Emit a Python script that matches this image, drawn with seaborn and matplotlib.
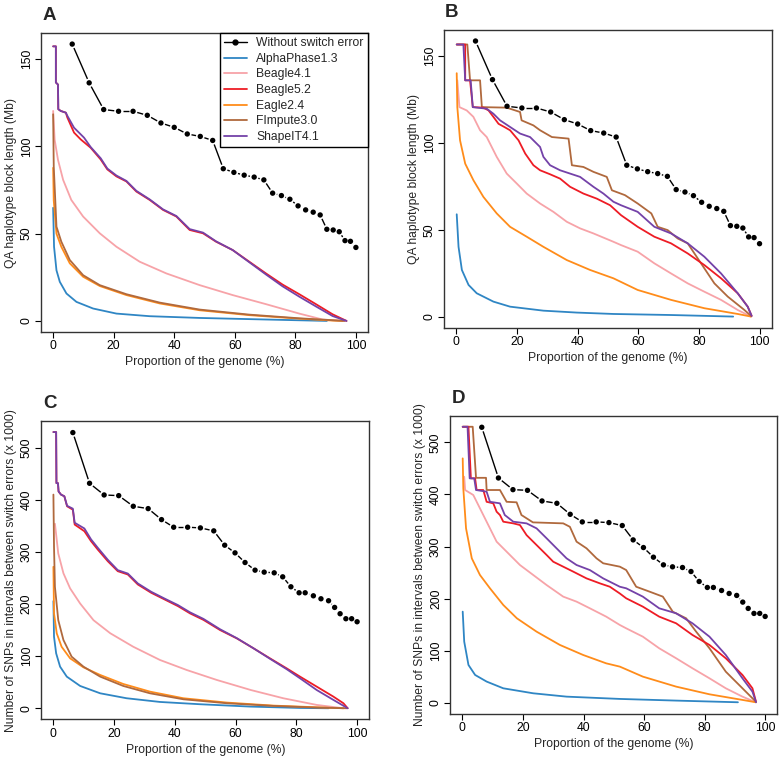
"""
Switch-error block length curves, four panels (A-D), R base-graphics look.
"""

import matplotlib

matplotlib.use("Agg")

import matplotlib.pyplot as plt
import numpy as np
import pandas as pd
import seaborn as sns

# ---------------------------------------------------------------------------
# Data
# ---------------------------------------------------------------------------

# "Without switch error" reference series (A/B: block length in Mb)
LEN_REF_X = [6.3, 11.9, 16.7, 21.6, 26.4, 31.1, 35.6, 40.0, 44.3, 48.6, 52.7, 56.2,
             59.7, 63.1, 66.4, 69.6, 72.5, 75.4, 78.2, 80.9, 83.4, 85.9, 88.2, 90.4,
             92.5, 94.5, 96.4, 98.2, 100.0]
LEN_REF_Y = [158.6, 136.4, 121.1, 120.1, 120.1, 117.8, 113.4, 110.9, 107.1, 105.7,
             103.4, 87.2, 85.1, 83.5, 82.4, 80.8, 73.2, 71.8, 69.7, 65.9, 63.6, 62.3,
             60.7, 52.5, 52.1, 51.1, 46.0, 45.6, 42.1]

# "Without switch error" reference series (C/D: SNPs x 1000)
SNP_REF_X = [6.4, 11.9, 16.7, 21.5, 26.3, 31.2, 35.6, 39.6, 44.2, 48.4, 52.8, 56.4,
             59.8, 63.1, 66.4, 69.4, 72.7, 75.5, 78.2, 80.9, 82.9, 85.6, 88.1, 90.6,
             92.6, 94.4, 96.3, 98.2, 100.0]
SNP_REF_Y = [529, 431.7, 409.3, 408, 387.6, 383.1, 362, 347.4, 347.4, 346.1, 340.4,
             312.9, 298.2, 279.7, 265, 261.2, 259.9, 252.2, 233.1, 221.6, 221.6,
             215.8, 210.1, 206.3, 193.5, 181.4, 171.8, 171.8, 166]

# Panel A
A_ALPHA_X = [0, 0.3, 1.1, 2.2, 4.4, 7.7, 13.2, 20.9, 31.9, 48.4, 70.3, 90.4]
A_ALPHA_Y = [64.8, 42.5, 29, 22.4, 15.7, 10.9, 7.1, 4.2, 2.7, 1.7, 0.8, 0]
A_B41_X = [0, 0.5, 1.6, 3.3, 6.0, 9.9, 15.4, 20.9, 28.6, 37.4, 48.4, 59.3, 70.3, 81.3, 89, 96.2]
A_B41_Y = [120.3, 103.8, 92.3, 80.8, 69.3, 59.8, 50.2, 42.5, 33.9, 27.2, 20.5, 14.8, 9.6, 4.2, 0.8, 0]
A_B52_X = [0, 0.9, 0.9, 1.6, 1.7, 2.5, 4.2, 4.7, 6.9, 9.1, 12.4, 15.7, 17.9, 20.9, 24.2,
           27.5, 31.9, 36.3, 40.7, 45.1, 49.5, 53.8, 59.3, 64.8, 70.3, 75.8, 81.3,
           86.8, 92.3, 96.9]
A_B52_Y = [157.3, 157.3, 136.6, 135.4, 121.3, 120.3, 119.3, 116.5, 107.9, 104, 99.2,
           92.5, 86.8, 82.8, 79.9, 74.1, 69.3, 63.6, 59.8, 52.1, 50.2, 45.4, 40.6,
           33.9, 27.2, 20.8, 15.3, 9.6, 3.8, 0]
A_EAGLE_X = [0, 0.2, 1.1, 2.7, 5.5, 9.9, 15.4, 24.2, 35.2, 48.4, 64.8, 81.3, 92.3, 95.6]
A_EAGLE_Y = [87.7, 69, 50, 42.5, 33, 25.3, 20, 14.8, 10, 6.1, 3.3, 1.3, 0.2, 0]
A_FIMP_X = [0, 0.2, 1.1, 2.7, 5.5, 9.9, 15.4, 24.2, 35.2, 48.4, 64.8, 81.3, 96.2]
A_FIMP_Y = [118.4, 88.5, 54, 45.4, 34.9, 26.2, 20.5, 15.3, 10.5, 6.5, 3.6, 1.5, 0]
A_SHAPE_X = [0, 0.9, 0.9, 1.6, 1.7, 2.5, 4.2, 4.7, 6.9, 10.2, 12.4, 15.7, 17.9, 20.9,
             24.2, 27.5, 31.9, 36.3, 40.7, 45.1, 49.5, 53.8, 59.3, 64.8, 70.3, 75.8,
             81.3, 86.8, 92.3, 96.9]
A_SHAPE_Y = [157.3, 157.3, 136.6, 135.4, 121.3, 120.3, 119.3, 117.5, 110.7, 105, 99.6,
             93.2, 87.3, 83.3, 80.2, 74.5, 69.6, 63.9, 60.1, 52.6, 50.6, 45.6, 40.6,
             33.6, 26.6, 19.8, 13.9, 8.3, 2.8, 0]

# Panel B
B_ALPHA_X = [0.1, 0.7, 1.8, 4.0, 6.7, 12.2, 17.7, 28.7, 39.7, 51.8, 70.8, 91.3]
B_ALPHA_Y = [59, 40.3, 27, 18.4, 13.6, 8.8, 5.9, 3.6, 2.5, 1.7, 1.1, 0.2]
B_B41_X = [0.3, 1.0, 3.4, 5.6, 7.8, 10.0, 13.3, 16.6, 19.9, 23.2, 27.6, 32.0, 36.4,
           40.8, 45.2, 51.8, 54.3, 59.8, 65.3, 70.8, 76.3, 81.8, 87.3, 92.8, 97.2]
B_B41_Y = [136, 120.6, 118.7, 115, 107.3, 103.4, 92, 82.4, 76.7, 70.9, 65.2, 60.4,
           54.7, 50.9, 48, 43.2, 41.3, 37.5, 30.8, 25, 19.3, 14.5, 9.8, 4, 0.2]
B_B52_X = [0.1, 2.9, 2.9, 4.5, 5.4, 8.9, 10.6, 12.2, 13.9, 16.0, 17.7, 20.5, 22.7,
           25.4, 27.6, 30.9, 34.2, 37.5, 41.9, 46.3, 50.7, 54.3, 59.8, 65.3, 70.8,
           76.3, 81.8, 87.3, 92.8, 96.1, 97.4]
B_B52_Y = [156.6, 156.6, 136, 136, 120.6, 120.3, 118.7, 115, 111, 109, 107.3, 101.5,
           93.9, 87.2, 84.3, 82, 79.5, 74.8, 70.9, 68, 64.2, 58.5, 51.8, 46.1, 42.3,
           36.5, 29.8, 22.2, 13.6, 5.9, 0.6]
B_EAGLE_X = [0.1, 0.3, 1.2, 2.9, 5.6, 8.9, 13.3, 17.7, 23.2, 28.7, 36.4, 44.1, 51.8,
             59.8, 70.8, 81.8, 92.8, 97.2]
B_EAGLE_Y = [140.1, 120.6, 101.5, 88.1, 78.6, 69, 59.5, 51.8, 46.1, 40.3, 32.7, 27,
             22.2, 15.5, 9.8, 5, 1.7, 0.2]
B_FIMP_X = [0.1, 3.6, 4.5, 7.8, 8.4, 16.6, 21.0, 21.5, 25.4, 27.6, 31.5, 37.0, 38.1,
            41.9, 45.2, 49.6, 51.3, 55.6, 59.8, 64.3, 66.4, 69.7, 73.0, 76.3, 80.7,
            85.1, 89.5, 95.0, 97.2]
B_FIMP_Y = [156.6, 156.6, 136, 136, 120.6, 120.3, 117.8, 113, 110.1, 107.3, 103.4,
            102.5, 87.2, 86.2, 83.4, 80.5, 72.8, 70, 65.2, 59.5, 51.8, 49.9, 45.1,
            42.3, 30.8, 19.3, 11.7, 4, 0.6]
B_SHAPE_X = [0.1, 2.3, 2.9, 4.7, 5.4, 10.0, 12.2, 14.4, 17.7, 21.0, 24.3, 27.6, 28.7,
             30.9, 34.2, 37.5, 40.8, 45.2, 48.5, 51.8, 54.3, 59.8, 65.3, 70.8, 76.3,
             81.8, 87.3, 92.8, 96.1, 97.4]
B_SHAPE_Y = [156.6, 156.6, 136, 136, 120.6, 119.7, 116.8, 113, 109.2, 105.4, 103.4,
             97.7, 92, 87.2, 84.3, 82.4, 80.5, 74.8, 70.9, 66.2, 64.2, 60.4, 51.8, 48,
             42.3, 34.6, 25, 13.6, 5.9, 0.6]

# Panel C
C_ALPHA_X = [0, 0.2, 0.9, 2.2, 4.4, 8.8, 15.4, 24.1, 35.1, 48.3, 64.8, 81.2, 90.6]
C_ALPHA_Y = [205.6, 137.3, 105.4, 79.8, 60.7, 42.8, 28.7, 19.2, 12.1, 7.7, 3.2, 0.6, 0]
C_B41_X = [0.5, 1.6, 3.3, 5.5, 8.8, 13.2, 18.7, 26.3, 35.1, 43.9, 53.8, 65.0, 75.7, 86.7, 95.5]
C_B41_Y = [354, 297, 259, 230, 201, 169, 144, 118, 92.6, 73.4, 54.3, 35, 19.2, 6.4, 0]
C_B52_X = [0, 0.9, 1.0, 1.5, 1.7, 2.5, 3.6, 4.5, 6.4, 7.0, 10.2, 12.4, 14.6, 17.9,
           21.2, 24.5, 27.8, 32.2, 36.6, 41.0, 45.0, 49.4, 54.9, 60.4, 65.9, 71.3,
           76.8, 81.2, 86.7, 92.2, 95.5, 96.9]
C_B52_Y = [530, 530, 432, 432, 416, 410, 406.8, 387.6, 381, 352.5, 339.7, 320.6,
           304.6, 282.2, 263, 256.7, 237.5, 221.6, 208.8, 196, 182, 169.6, 150, 134,
           115, 95.8, 76.6, 60.7, 41.5, 22.3, 9.6, 0]
C_EAGLE_X = [0, 0.2, 1.1, 2.7, 5.5, 9.9, 15.4, 23.0, 31.8, 42.8, 57.1, 72.4, 86.7, 95.5]
C_EAGLE_Y = [271.4, 182, 143.7, 118, 95.8, 78.5, 63.9, 46.6, 31.9, 19.2, 10.9, 5.1, 1.9, 0]
C_FIMP_X = [0, 0.2, 0.5, 1.6, 3.3, 6.0, 9.9, 15.4, 23.0, 31.8, 42.8, 57.1, 72.4, 86.7, 96.6]
C_FIMP_Y = [410, 309.7, 233, 169, 131, 99, 79.8, 60.7, 42.8, 28.7, 17.2, 9.6, 4.5, 1.3, 0]
C_SHAPE_X = [0, 0.9, 1.0, 1.5, 1.7, 2.5, 3.6, 4.5, 6.4, 7.0, 10.2, 12.4, 14.6, 17.9,
             21.2, 24.5, 27.8, 32.2, 36.6, 41.0, 45.0, 49.4, 54.9, 60.4, 65.9, 71.3,
             76.8, 81.2, 86.7, 92.2, 96.9]
C_SHAPE_Y = [530, 530, 432, 432, 416, 410, 406.8, 388.5, 383, 356, 345, 324, 308,
             285, 265, 258.5, 239.5, 223.5, 210.5, 198, 184, 171.5, 151.5, 134.5, 115,
             95, 75, 57.5, 35, 16, 0]

# Panel D
D_ALPHA_X = [0.1, 0.6, 2.0, 4.2, 8.0, 13.5, 23.4, 34.4, 52.0, 70.6, 91.0]
D_ALPHA_Y = [175.2, 117.6, 72.9, 53.7, 41, 28.1, 18.5, 12.1, 7.7, 4.5, 1.3]
D_B41_X = [0.6, 0.9, 3.6, 5.8, 8.0, 11.3, 14.6, 19.0, 23.4, 27.8, 33.3, 37.7, 42.1,
           47.5, 52.0, 54.1, 59.6, 65.0, 70.6, 76.0, 81.6, 87.0, 92.5, 96.9]
D_B41_Y = [434, 408.6, 399, 373.4, 347.8, 309.5, 290.3, 264.7, 245.5, 226.3, 204,
           194.4, 181.6, 165.6, 149.6, 143.2, 127.2, 104.9, 85.7, 66.5, 47.3, 28.1,
           12.1, 1.3]
D_B52_X = [0.1, 2.0, 2.8, 4.2, 4.7, 6.9, 8.0, 10.2, 11.3, 12.4, 13.5, 16.8, 19.0,
           21.2, 24.5, 27.8, 30.0, 33.3, 36.6, 41.0, 45.4, 48.7, 52.0, 54.1, 59.6,
           65.0, 70.6, 76.0, 81.6, 87.0, 92.5, 95.8, 96.9]
D_B52_Y = [530, 530, 431, 431, 408.6, 408.6, 386, 383, 367, 360.6, 347.8, 344.6,
           341.4, 322, 303, 284, 271, 261.5, 252, 239, 229.5, 223, 210, 200.8, 184.8,
           165.6, 152.8, 130.4, 111.3, 85.7, 53.7, 28.1, 3.8]
D_EAGLE_X = [0.1, 0.3, 1.2, 3.1, 5.8, 9.1, 13.5, 18.0, 24.5, 32.2, 39.9, 47.5, 52.0,
             59.6, 70.6, 81.6, 92.5, 96.9]
D_EAGLE_Y = [469.3, 411.8, 335, 277.5, 245.5, 220, 188, 162.4, 136.8, 111.3, 92, 76,
             69.7, 50.5, 31.3, 16.6, 5.8, 1.3]
D_FIMP_X = [0.1, 3.4, 4.5, 7.8, 8.0, 12.4, 14.6, 17.9, 19.5, 23.3, 33.3, 35.5, 37.7,
            41.0, 44.3, 46.5, 52.0, 54.1, 57.4, 61.8, 66.2, 69.5, 73.9, 77.2, 81.6,
            87.0, 92.5, 96.9]
D_FIMP_Y = [530, 530, 432, 432, 408.6, 408.6, 386, 385, 360.6, 346.5, 344.6, 338,
            309.5, 296.7, 277.5, 268, 261.5, 255, 223, 213.6, 204, 175, 162.4, 136.8,
            104.9, 60, 28.1, 2.6]
D_SHAPE_X = [0.1, 1.7, 2.4, 3.9, 4.5, 8.0, 9.1, 12.4, 14.0, 16.8, 21.2, 24.5, 27.8,
             31.1, 34.4, 37.7, 42.1, 46.5, 52.0, 54.1, 59.6, 65.0, 70.6, 76.0, 81.6,
             87.0, 92.5, 95.8, 97.0]
D_SHAPE_Y = [530, 530, 431, 431, 408.6, 405.4, 386, 383, 360.6, 347.8, 344.6, 335,
             316, 296.7, 277.5, 264.7, 255, 239, 223, 220, 204, 181.6, 172, 152.8,
             127.2, 92, 47.3, 21.7, 1.3]

# ---------------------------------------------------------------------------
# Style
# ---------------------------------------------------------------------------

METHODS = ["AlphaPhase1.3", "Beagle4.1", "Beagle5.2", "Eagle2.4", "FImpute3.0", "ShapeIT4.1"]
COLORS = {
    "AlphaPhase1.3": "#2f86c4",
    "Beagle4.1": "#f7a3a8",
    "Beagle5.2": "#ee1c25",
    "Eagle2.4": "#ff8c1a",
    "FImpute3.0": "#b0693d",
    "ShapeIT4.1": "#7442a8",
}
DRAW_ORDER = ["AlphaPhase1.3", "Beagle4.1", "Eagle2.4", "FImpute3.0", "Beagle5.2", "ShapeIT4.1"]

sns.set_theme(style="ticks")
plt.rcParams["font.family"] = ["Liberation Sans", "DejaVu Sans"]
plt.rcParams["axes.linewidth"] = 1.0
plt.rcParams["xtick.major.size"] = 4
plt.rcParams["ytick.major.size"] = 4
plt.rcParams["xtick.major.width"] = 0.8
plt.rcParams["ytick.major.width"] = 0.8

FS = 8.7
LW = 1.3
W, H = 780, 759

panels = {
    "A": dict(pos=[0.0526, 0.5626, 0.4192, 0.3939], tag_px=(43, 20),
              ylabel="QA haplotype block length (Mb)", yticks=[0, 50, 100, 150],
              ref=(LEN_REF_X, LEN_REF_Y), legend=True,
              curves={"AlphaPhase1.3": (A_ALPHA_X, A_ALPHA_Y),
                      "Beagle4.1": (A_B41_X, A_B41_Y),
                      "Beagle5.2": (A_B52_X, A_B52_Y),
                      "Eagle2.4": (A_EAGLE_X, A_EAGLE_Y),
                      "FImpute3.0": (A_FIMP_X, A_FIMP_Y),
                      "ShapeIT4.1": (A_SHAPE_X, A_SHAPE_Y)}),
    "B": dict(pos=[0.5696, 0.5679, 0.4197, 0.3926], tag_px=(445, 17),
              ylabel="QA haplotype block length (Mb)", yticks=[0, 50, 100, 150],
              ref=(LEN_REF_X, LEN_REF_Y), legend=False,
              curves={"AlphaPhase1.3": (B_ALPHA_X, B_ALPHA_Y),
                      "Beagle4.1": (B_B41_X, B_B41_Y),
                      "Beagle5.2": (B_B52_X, B_B52_Y),
                      "Eagle2.4": (B_EAGLE_X, B_EAGLE_Y),
                      "FImpute3.0": (B_FIMP_X, B_FIMP_Y),
                      "ShapeIT4.1": (B_SHAPE_X, B_SHAPE_Y)}),
    "C": dict(pos=[0.0529, 0.0523, 0.4205, 0.3930], tag_px=(43, 408),
              ylabel="Number of SNPs in intervals between switch errors (x 1000)",
              yticks=[0, 100, 200, 300, 400, 500],
              ref=(SNP_REF_X, SNP_REF_Y), legend=False,
              curves={"AlphaPhase1.3": (C_ALPHA_X, C_ALPHA_Y),
                      "Beagle4.1": (C_B41_X, C_B41_Y),
                      "Beagle5.2": (C_B52_X, C_B52_Y),
                      "Eagle2.4": (C_EAGLE_X, C_EAGLE_Y),
                      "FImpute3.0": (C_FIMP_X, C_FIMP_Y),
                      "ShapeIT4.1": (C_SHAPE_X, C_SHAPE_Y)}),
    "D": dict(pos=[0.5773, 0.0593, 0.4192, 0.3930], tag_px=(452, 403),
              ylabel="Number of SNPs in intervals between switch errors (x 1000)",
              yticks=[0, 100, 200, 300, 400, 500],
              ref=(SNP_REF_X, SNP_REF_Y), legend=False,
              curves={"AlphaPhase1.3": (D_ALPHA_X, D_ALPHA_Y),
                      "Beagle4.1": (D_B41_X, D_B41_Y),
                      "Beagle5.2": (D_B52_X, D_B52_Y),
                      "Eagle2.4": (D_EAGLE_X, D_EAGLE_Y),
                      "FImpute3.0": (D_FIMP_X, D_FIMP_Y),
                      "ShapeIT4.1": (D_SHAPE_X, D_SHAPE_Y)}),
}


def r_limits(lo, hi):
    # R's default 4% axis padding
    pad = 0.04 * (hi - lo)
    return lo - pad, hi + pad


def gapped_line(ax, xs, ys, gap_px=4.3):
    """Draw R type='b' style segments: lines stop short of each point."""
    pts = ax.transData.transform(np.column_stack([xs, ys]))
    inv = ax.transData.inverted()
    for p0, p1 in zip(pts[:-1], pts[1:]):
        d = p1 - p0
        length = np.hypot(*d)
        if length <= 2 * gap_px:
            continue
        u = d / length
        seg = inv.transform(np.vstack([p0 + u * gap_px, p1 - u * gap_px]))
        ax.plot(seg[:, 0], seg[:, 1], color="black", lw=1.0, solid_capstyle="butt")


fig = plt.figure(figsize=(W / 100, H / 100), dpi=100)

for label, cfg in panels.items():
    ax = fig.add_axes(cfg["pos"])
    ref_x, ref_y = cfg["ref"]
    all_y = list(ref_y) + [v for c in cfg["curves"].values() for v in c[1]]
    ax.set_xlim(*r_limits(0, 100))
    ax.set_ylim(*r_limits(0, max(all_y)))

    for name in DRAW_ORDER:
        cx, cy = cfg["curves"][name]
        df = pd.DataFrame({"x": cx, "y": cy})
        sns.lineplot(data=df, x="x", y="y", sort=False, estimator=None,
                     color=COLORS[name], lw=LW, ax=ax)

    gapped_line(ax, ref_x, ref_y)
    sns.scatterplot(x=ref_x, y=ref_y, color="black", s=15, edgecolor="none",
                    zorder=5, ax=ax)

    ax.set_xticks([0, 20, 40, 60, 80, 100])
    ax.set_yticks(cfg["yticks"])
    ax.tick_params(labelsize=FS, pad=2, colors="black")
    for t in ax.get_yticklabels():
        t.set_rotation(90)
        t.set_va("center")
    ax.set_xlabel("Proportion of the genome (%)", fontsize=FS, labelpad=3)
    ax.set_ylabel(cfg["ylabel"], fontsize=FS, labelpad=3)
    for sp in ax.spines.values():
        sp.set_visible(True)
        sp.set_color("#333333")

    tx, ty = cfg["tag_px"]
    fig.text(tx / W, 1 - ty / H, label, fontsize=13.5, fontweight="bold",
             ha="left", va="baseline")

    if cfg["legend"]:
        handles = [plt.Line2D([], [], color="black", marker="o", ms=3.5, lw=1.0)]
        labels = ["Without switch error"]
        for name in METHODS:
            handles.append(plt.Line2D([], [], color=COLORS[name], lw=LW))
            labels.append(name)
        leg = ax.legend(handles, labels, loc="upper right", fontsize=FS,
                        borderaxespad=0, fancybox=False, framealpha=1,
                        edgecolor="black", handlelength=1.9, handletextpad=0.8,
                        labelspacing=0.3, borderpad=0.35)
        leg.get_frame().set_linewidth(1.0)

fig.savefig("out.png", dpi=100)
